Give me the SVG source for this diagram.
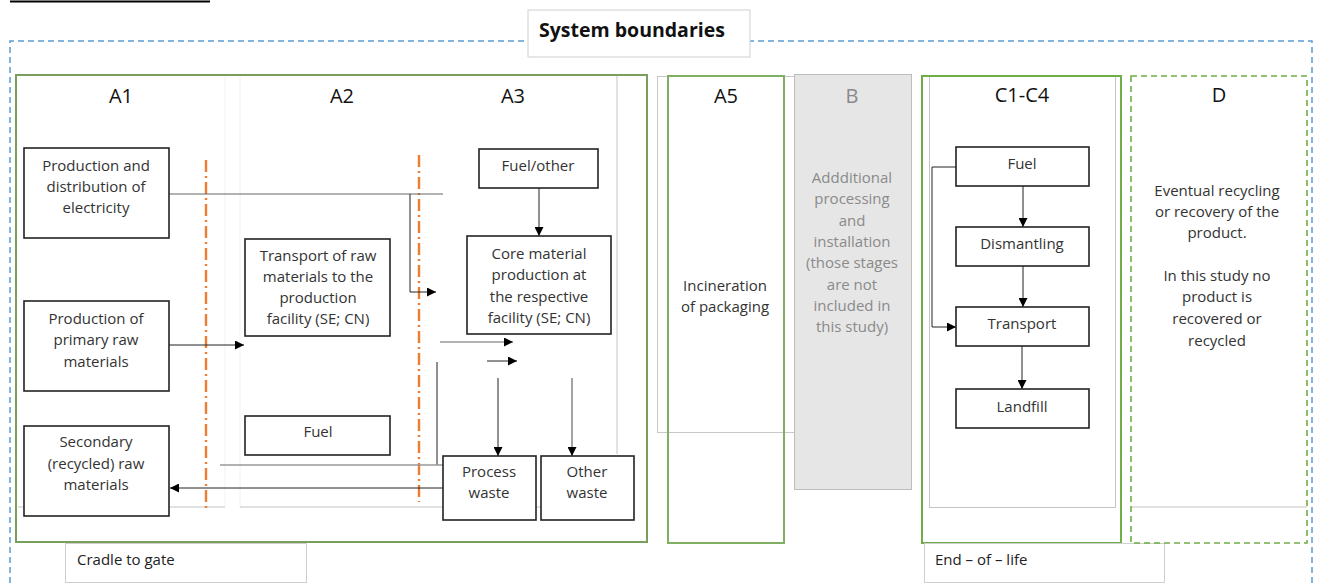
<svg xmlns="http://www.w3.org/2000/svg" width="1317" height="583" viewBox="0 0 1317 583">
<defs>
<style>
text{font-family:"Open Sans","Liberation Sans",sans-serif;font-size:15px;fill:#333;text-anchor:middle}
.hdr{font-size:20px;fill:#111}
.gray{fill:#8a8a8a}
.lbl{text-anchor:start;fill:#222}
.box{fill:#fff;stroke:#222;stroke-width:1.6}
.faint{stroke:#f2f2f2;stroke-width:1;fill:none}
.conn{fill:none;stroke:#222;stroke-width:1}
.connG{fill:none;stroke:#666;stroke-width:1.2}
.orange{stroke:#ED7D31;stroke-width:2.4;stroke-dasharray:12 4 2 4;fill:none}
</style>
<marker id="ah" viewBox="0 0 10 10" refX="10" refY="5" markerWidth="9" markerHeight="9" markerUnits="userSpaceOnUse" orient="auto">
<path d="M0,0 L10,5 L0,10 z" fill="#000"/>
</marker>
</defs>
<rect width="1317" height="583" fill="#fff"/>

<!-- partial title underline -->
<line x1="10" y1="1.5" x2="210" y2="1.5" stroke="#000" stroke-width="2"/>

<!-- outer system boundary -->
<path d="M10,583 V41 H1312 V583" fill="none" stroke="#5B9BD5" stroke-width="1.5" stroke-dasharray="6 4"/>

<g id="system-boundaries">
<rect x="528" y="10" width="222" height="47" fill="#fff" stroke="#cfcfcf" stroke-width="1"/>
<text x="539" y="37" style="text-anchor:start;font-weight:bold;font-size:19.5px;fill:#111">System boundaries</text>
</g>

<!-- Cradle to gate group -->
<g id="a1-a3">
<line class="faint" x1="225" y1="76" x2="225" y2="507"/>
<line class="faint" x1="240" y1="76" x2="240" y2="507"/>
<line x1="617" y1="76" x2="617" y2="454" stroke="#c4c4c4" stroke-width="1"/>
<line x1="18" y1="507" x2="225" y2="507" stroke="#c4c4c4" stroke-width="1"/>
<line x1="240" y1="507" x2="541" y2="507" stroke="#c4c4c4" stroke-width="1"/>
<rect x="16" y="75" width="631" height="467" fill="none" stroke="#7A9E5C" stroke-width="2"/>
<text class="hdr" x="121" y="103">A1</text>
<text class="hdr" x="342" y="103">A2</text>
<text class="hdr" x="513" y="103">A3</text>
<line class="orange" x1="206" y1="160" x2="206" y2="508"/>
<line class="orange" x1="419" y1="155" x2="419" y2="502"/>
</g>

<g id="cradle-label">
<rect x="65.5" y="543.5" width="241" height="39" fill="#fff" stroke="#cfcfcf" stroke-width="1"/>
<text class="lbl" x="77" y="565">Cradle to gate</text>
</g>

<!-- connectors -->
<g id="connectors">
<path class="connG" d="M169,194 H443"/>
<path class="conn" d="M410,194 V292 H436" marker-end="url(#ah)"/>
<path class="conn" d="M169,345 H244" marker-end="url(#ah)"/>
<path class="conn" d="M539,188 V236" marker-end="url(#ah)"/>
<path class="connG" d="M440,342 H513" marker-end="url(#ah)"/>
<path class="conn" d="M487,361 H517" marker-end="url(#ah)"/>
<path class="conn" d="M437,362 V465"/>
<path d="M220,465 H487" fill="none" stroke="#999" stroke-width="1.5"/>
<path class="conn" d="M443,488 H170" marker-end="url(#ah)"/>
<path class="conn" d="M498,378 V456" marker-end="url(#ah)"/>
<path class="connG" d="M572,378 V456" marker-end="url(#ah)"/>
<path class="conn" d="M956,167 H932 V327 H956" marker-end="url(#ah)"/>
<path class="conn" d="M1023,186 V227" marker-end="url(#ah)"/>
<path class="conn" d="M1023,266 V307" marker-end="url(#ah)"/>
<path class="conn" d="M1022,346 V389" marker-end="url(#ah)"/>
</g>

<g id="electricity">
<rect class="box" x="24" y="148" width="145" height="90"/>
<text x="96" y="171">Production and</text>
<text x="96" y="192">distribution of</text>
<text x="96" y="213">electricity</text>
</g>
<g id="primary-raw">
<rect class="box" x="24" y="301" width="145" height="90"/>
<text x="96" y="324">Production of</text>
<text x="96" y="345">primary raw</text>
<text x="96" y="367">materials</text>
</g>
<g id="secondary-raw">
<rect class="box" x="24" y="426" width="145" height="90"/>
<text x="96" y="447">Secondary</text>
<text x="96" y="469">(recycled) raw</text>
<text x="96" y="490">materials</text>
</g>
<g id="transport-raw">
<rect class="box" x="245" y="239" width="145" height="97"/>
<text x="318" y="261">Transport of raw</text>
<text x="318" y="282">materials to the</text>
<text x="318" y="303">production</text>
<text x="318" y="324">facility (SE; CN)</text>
</g>
<g id="fuel-a2">
<rect class="box" x="245" y="416" width="145" height="39"/>
<text x="318" y="437">Fuel</text>
</g>
<g id="fuel-other">
<rect class="box" x="479" y="149" width="119" height="39"/>
<text x="538" y="171">Fuel/other</text>
</g>
<g id="core-production">
<rect class="box" x="467" y="236" width="144" height="98"/>
<text x="539" y="259">Core material</text>
<text x="539" y="280">production at</text>
<text x="539" y="302">the respective</text>
<text x="539" y="323">facility (SE; CN)</text>
</g>
<g id="process-waste">
<rect class="box" x="443" y="456" width="93" height="64"/>
<text x="489" y="477">Process</text>
<text x="489" y="498">waste</text>
</g>
<g id="other-waste">
<rect class="box" x="541" y="456" width="93" height="64"/>
<text x="587" y="477">Other</text>
<text x="587" y="498">waste</text>
</g>

<!-- A5 -->
<g id="a5">
<rect x="657.5" y="76.5" width="140" height="356" fill="none" stroke="#c8c8c8" stroke-width="1"/>
<rect x="668" y="76" width="116" height="467" fill="none" stroke="#80AE62" stroke-width="2"/>
<text class="hdr" x="726" y="103">A5</text>
<text x="725" y="291">Incineration</text>
<text x="725" y="312">of packaging</text>
</g>

<!-- B -->
<g id="b">
<rect x="794.5" y="74.5" width="117" height="415" fill="#e6e6e6" stroke="#bdbdbd" stroke-width="1"/>
<text class="hdr gray" x="852" y="103">B</text>
<text class="gray" x="852" y="183">Addditional</text>
<text class="gray" x="852" y="204">processing</text>
<text class="gray" x="852" y="226">and</text>
<text class="gray" x="852" y="247">installation</text>
<text class="gray" x="852" y="268">(those stages</text>
<text class="gray" x="852" y="290">are not</text>
<text class="gray" x="852" y="311">included in</text>
<text class="gray" x="852" y="332">this study)</text>
</g>

<!-- C1-C4 -->
<g id="c1-c4">
<rect x="929.5" y="76.5" width="186" height="431" fill="none" stroke="#c4c4c4" stroke-width="1"/>
<rect x="922" y="76" width="199" height="467" fill="none" stroke="#70AD47" stroke-width="2"/>
<text class="hdr" x="1022" y="102">C1-C4</text>
</g>
<g id="c-fuel">
<rect class="box" x="956" y="147" width="133" height="39"/>
<text x="1022" y="169">Fuel</text>
</g>
<g id="c-dismantling">
<rect class="box" x="956" y="227" width="133" height="39"/>
<text x="1022" y="249">Dismantling</text>
</g>
<g id="c-transport">
<rect class="box" x="956" y="307" width="133" height="39"/>
<text x="1022" y="329">Transport</text>
</g>
<g id="c-landfill">
<rect class="box" x="956" y="389" width="133" height="39"/>
<text x="1022" y="412">Landfill</text>
</g>

<g id="eol-label">
<rect x="924.5" y="543.5" width="240" height="39" fill="#fff" stroke="#cfcfcf" stroke-width="1"/>
<text class="lbl" x="935" y="565">End – of – life</text>
</g>

<!-- D -->
<g id="d">
<line x1="1131" y1="507" x2="1307" y2="507" stroke="#c4c4c4" stroke-width="1"/>
<rect x="1131" y="76" width="176" height="467" fill="none" stroke="#70AD47" stroke-width="1.6" stroke-dasharray="6 4"/>
<text class="hdr" x="1219" y="102">D</text>
<text x="1217" y="196">Eventual recycling</text>
<text x="1217" y="217">or recovery of the</text>
<text x="1217" y="238">product.</text>
<text x="1217" y="281">In this study no</text>
<text x="1217" y="302">product is</text>
<text x="1217" y="324">recovered or</text>
<text x="1217" y="346">recycled</text>
</g>
</svg>
